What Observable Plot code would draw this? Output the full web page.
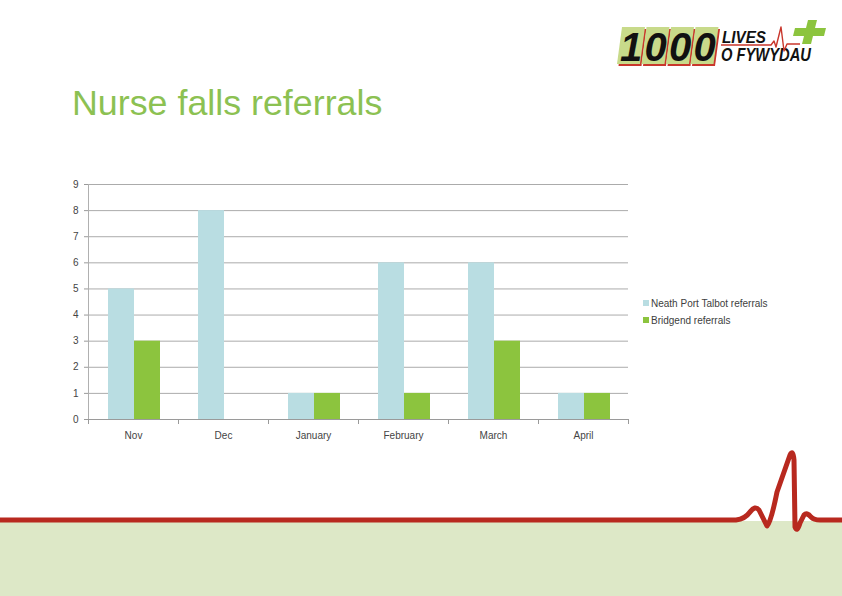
<!DOCTYPE html>
<html>
<head>
<meta charset="utf-8">
<script src="https://cdn.jsdelivr.net/npm/d3@7"></script>
<script src="https://cdn.jsdelivr.net/npm/@observablehq/plot@0.6"></script>
<style>
  html, body { margin: 0; padding: 0; background: #fff; }
  #page { position: relative; width: 842px; height: 596px; overflow: hidden; font-family: 'Liberation Sans', Arial, sans-serif; }
  #deco { position: absolute; left: 0; top: 0; }
  #chart { position: absolute; left: 0; top: 170px; }
</style>
</head>
<body>
<div id="page">
  <svg id="deco" width="842" height="596"></svg>
  <div id="chart"></div>
</div>
<script>
// ---- data ----
const months = ["Nov", "Dec", "January", "February", "March", "April"];
const nptReferrals = [5, 8, 1, 6, 6, 1];
const bridgendReferrals = [3, 0, 1, 1, 3, 1];
const yTicks = [0, 1, 2, 3, 4, 5, 6, 7, 8, 9];
const seriesNames = ["Neath Port Talbot referrals", "Bridgend referrals"];
const seriesColors = ["#b9dde2", "#8cc43e"];
const titleText = "Nurse falls referrals";

const rows = months.map((m, i) => ({ month: m, npt: nptReferrals[i], bridgend: bridgendReferrals[i] }));

// ---- chart ----
const chart = Plot.plot({
  width: 842,
  height: 279,
  marginLeft: 88,
  marginRight: 214,
  marginTop: 14,
  marginBottom: 30,
  style: { fontFamily: "'Liberation Sans', Arial, sans-serif", fontSize: "10px", color: "#444", background: "transparent", overflow: "visible" },
  x: { type: "band", domain: months, padding: 0 },
  y: { domain: [0, 9] },
  marks: [
    Plot.gridY(yTicks.slice(1), { stroke: "#ababab", strokeOpacity: 1 }),
    Plot.barY(rows, { x: "month", y: "npt", fill: seriesColors[0], insetLeft: 20, insetRight: 44 }),
    Plot.barY(rows, { x: "month", y: "bridgend", fill: seriesColors[1], insetLeft: 46, insetRight: 18 }),
    Plot.ruleY([0], { stroke: "#9a9a9a" }),
    Plot.ruleX([months[0]], { x: d => d, dx: -45, y1: 0, y2: 9, stroke: "#b0b0b0" }),
    Plot.axisY(yTicks, { tickSize: 4, tickPadding: 6, stroke: "#9a9a9a", fill: "#444", label: null }),
    Plot.axisX({ tickSize: 0, tickPadding: 12, fill: "#444", label: null }),
    Plot.axisX(months, { tickSize: 5, tickFormat: () => "", dx: -45, stroke: "#9a9a9a", label: null }),
    Plot.axisX([months[months.length - 1]], { tickSize: 5, tickFormat: () => "", dx: 45, stroke: "#9a9a9a", label: null })
  ]
});
document.getElementById("chart").appendChild(chart);

// ---- decoration: title, legend, logo, bottom band ----
const svg = d3.select("#deco");

// bottom band and ECG line
svg.append("rect").attr("x", 0).attr("y", 521).attr("width", 842).attr("height", 75).attr("fill", "#dde8c7");
svg.append("path")
  .attr("d", "M0 520 L736 520 Q745 519 750 512 Q755 505 759 510 Q763 518 767 526 Q771 522 777 492 L790 455 Q793 449 794 460 L795 527 Q797 533 800 523 L804 515 Q807 512 811 517 Q814 520 820 520 L842 520")
  .attr("fill", "none").attr("stroke", "#b8291f").attr("stroke-width", 5).attr("stroke-linejoin", "round").attr("stroke-linecap", "round");

// title
svg.append("text").attr("x", 72).attr("y", 115).attr("fill", "#8cc152")
  .attr("font-family", "'Liberation Sans', Arial, sans-serif").attr("font-size", 35.8).text(titleText);

// legend
seriesNames.forEach((name, i) => {
  const cy = 303 + i * 17;
  svg.append("rect").attr("x", 643).attr("y", cy - 3).attr("width", 6).attr("height", 6).attr("fill", seriesColors[i]);
  svg.append("text").attr("x", 651).attr("y", cy + 3.5).attr("fill", "#404040")
    .attr("font-family", "'Liberation Sans', Arial, sans-serif").attr("font-size", 10).text(name);
});

// logo
const logo = svg.append("g");
const digits = ["1", "0", "0", "0"];
digits.forEach((dg, i) => {
  const x0 = 617 + i * 24.5;
  const pts = (dx, dy) => `${x0 + 5 + dx},${27 + dy} ${x0 + 28 + dx},${27 + dy} ${x0 + 23 + dx},${64 + dy} ${x0 + dx},${64 + dy}`;
  logo.append("polygon").attr("points", pts(1.5, 2)).attr("fill", "#c9372c");
  logo.append("polygon").attr("points", pts(0, 0)).attr("fill", "#c8da8a");
  logo.append("text").attr("x", x0 + 14).attr("y", 61).attr("text-anchor", "middle")
    .attr("font-family", "'Liberation Sans', Arial, sans-serif").attr("font-weight", "bold").attr("font-style", "italic")
    .attr("font-size", 40).attr("fill", "#111").text(dg);
});
logo.append("text").attr("x", 722).attr("y", 42.5).attr("textLength", 44).attr("lengthAdjust", "spacingAndGlyphs")
  .attr("font-family", "'Liberation Sans', Arial, sans-serif").attr("font-weight", "bold").attr("font-style", "italic")
  .attr("font-size", 17).attr("fill", "#111").text("LIVES");
logo.append("text").attr("x", 721).attr("y", 61).attr("textLength", 90).attr("lengthAdjust", "spacingAndGlyphs")
  .attr("font-family", "'Liberation Sans', Arial, sans-serif").attr("font-weight", "bold").attr("font-style", "italic")
  .attr("font-size", 18).attr("fill", "#111").text("O FYWYDAU");
logo.append("path").attr("d", "M721 45 L771 45 L774 41 L776 47 L781 27 L784 51 L787 44 L800 44")
  .attr("fill", "none").attr("stroke", "#c9372c").attr("stroke-width", 1.4).attr("stroke-linejoin", "round");
logo.append("polygon").attr("points", "808,20 817,20 815,28 826,28 824,36 813,36 811,44 802,44 804,36 793,36 795,28 806,28")
  .attr("fill", "#8cc43e");
</script>
</body>
</html>
